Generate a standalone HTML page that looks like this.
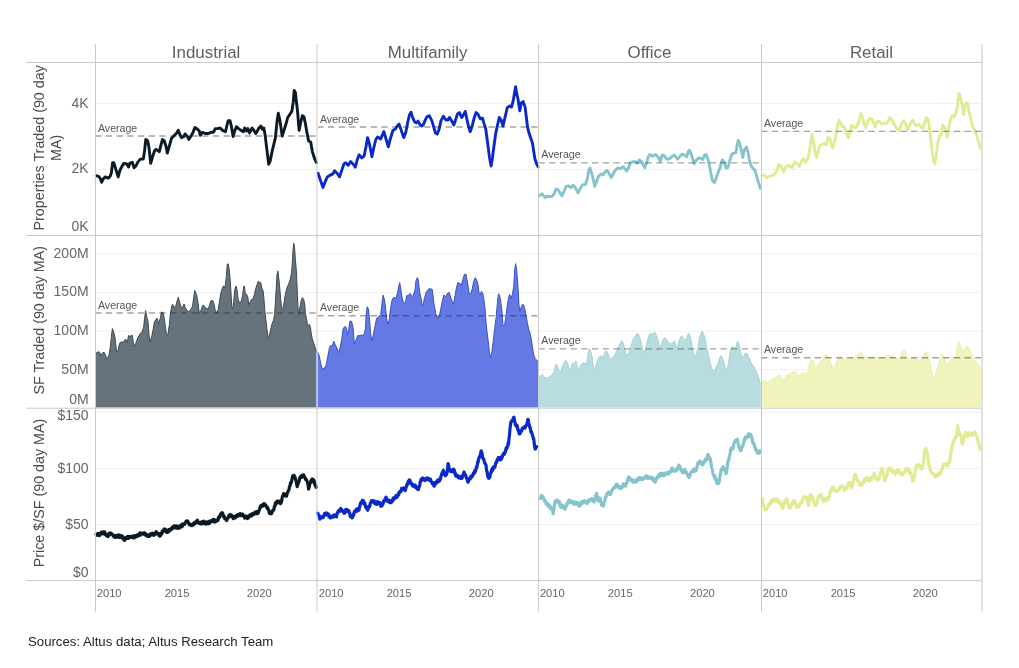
<!DOCTYPE html>
<html><head><meta charset="utf-8"><title>Chart</title>
<style>html,body{margin:0;padding:0;background:#fff}svg{display:block}</style>
</head><body>
<svg width="1019" height="668" viewBox="0 0 1019 668" font-family="&quot;Liberation Sans&quot;, sans-serif">
<rect width="1019" height="668" fill="#fff"/>
<g stroke="#f0f0f0" stroke-width="1">
<line x1="96" x2="981.5" y1="103.5" y2="103.5"/>
<line x1="96" x2="981.5" y1="169.4" y2="169.4"/>
<line x1="96" x2="981.5" y1="254.0" y2="254.0"/>
<line x1="96" x2="981.5" y1="292.6" y2="292.6"/>
<line x1="96" x2="981.5" y1="331.2" y2="331.2"/>
<line x1="96" x2="981.5" y1="369.7" y2="369.7"/>
<line x1="96" x2="981.5" y1="412.4" y2="412.4"/>
<line x1="96" x2="981.5" y1="468.5" y2="468.5"/>
<line x1="96" x2="981.5" y1="524.6" y2="524.6"/>
</g>
<path d="M95.8,353.1 L96.1,353.1 L97.9,351.9 L99.4,351.9 L101,355.6 L102.8,352.5 L104.3,352.5 L105.9,356.2 L107.5,358.7 L109,355 L110.2,347.6 L111.4,336.6 L112.4,328.6 L113.6,331.7 L114.9,336.6 L115.7,343.9 L116.9,352.5 L118.2,350.1 L119.4,343.9 L120.6,342.1 L122.5,342.1 L124.3,340.9 L125.5,339 L127.1,342.7 L128.6,335.3 L129.8,337.2 L131.1,335.3 L132.3,335.3 L133.3,342.7 L134.5,346.4 L136,342.7 L137.8,337.8 L140.3,333.5 L142.1,331.7 L143.6,327.4 L144.6,318.2 L145.6,310.5 L146.8,316.9 L148,321.8 L148.9,334.1 L150.1,342.1 L151.7,336.6 L153.2,329.2 L154.4,321.8 L155.6,320 L156.9,318.2 L158.7,323.1 L160.3,318.2 L161.5,312 L163,312.6 L164.2,318.2 L165.4,326.7 L166.4,334.1 L167.9,334.7 L169.4,324.3 L170.6,312 L172.2,304.6 L173.4,305.3 L174.3,307.7 L175.9,305.9 L177.1,301 L178.3,297.3 L179.6,302.2 L180.8,306.5 L182.6,307.7 L184.1,304 L185.3,307.7 L186.9,310.2 L188.8,312 L190.6,309.6 L192.5,306.5 L193.7,297.3 L194.7,290.5 L195,290.8 L196.8,295.7 L198.1,303.1 L199.3,313.5 L200.9,310.4 L202.1,306.8 L203.3,304.9 L204.8,306.8 L206.7,308.6 L208.5,308.6 L209.7,304.3 L211,300.6 L212.8,300.6 L214,304.3 L215.3,310.4 L216.9,312.9 L218.3,309.2 L219.6,300.6 L220.8,293.3 L222.3,288.3 L223.5,285.9 L225.1,287.1 L226.3,277.3 L227.2,264.4 L228.2,263.8 L229.1,268.7 L230,277.3 L230.9,290.8 L231.8,306.8 L232.8,308.6 L233.7,301.9 L234.5,292 L235.5,286.5 L236.5,286.5 L237.4,293.3 L238.2,300 L239.8,303.1 L241.4,300.6 L242.6,295.7 L243.5,287.1 L244.4,285.9 L245.1,292.6 L246.6,294.5 L247.8,296.9 L248.8,304.9 L250.3,301.9 L251.5,299.4 L253.3,298.8 L254.6,293.3 L255.8,288.3 L257,284.7 L258.2,281 L259.5,282.8 L260.7,282.2 L261.9,288.3 L263.1,290.8 L264,299.4 L264.7,309.7 L265.8,319.3 L266.9,328.9 L268,336.2 L268.5,338.4 L269.3,336.2 L270.6,329.6 L272.1,323.7 L273.6,320 L274.7,313.4 L275.4,301.9 L276.3,287.1 L277,274.8 L277.9,270.9 L278.7,277.3 L279.7,287.1 L280.7,299.4 L281.6,308 L282.8,309.2 L284,303.1 L285.3,294.5 L286.8,288.3 L288.3,284.7 L290.2,279.7 L291.4,273.6 L292.2,265 L293,250.3 L293.8,243.2 L294.7,249.1 L295.4,260.1 L296.3,269.9 L296.9,282.2 L297.5,296.9 L298.1,309.2 L298.8,314.7 L300,306.8 L301.2,300.6 L302.4,297.6 L303.7,299.4 L304.9,305.5 L305.3,312.7 L306.3,317.8 L307.4,323.7 L308.5,325.9 L309.5,324.4 L310.4,327.4 L311.1,332.5 L312.2,338.4 L313.3,342.1 L314,344 L316.5,352 L316.4,352 L316.4,407.6 L95.8,407.6 Z" fill="#66737d"/>
<path d="M95.8,353.1 L96.1,353.1 L97.9,351.9 L99.4,351.9 L101,355.6 L102.8,352.5 L104.3,352.5 L105.9,356.2 L107.5,358.7 L109,355 L110.2,347.6 L111.4,336.6 L112.4,328.6 L113.6,331.7 L114.9,336.6 L115.7,343.9 L116.9,352.5 L118.2,350.1 L119.4,343.9 L120.6,342.1 L122.5,342.1 L124.3,340.9 L125.5,339 L127.1,342.7 L128.6,335.3 L129.8,337.2 L131.1,335.3 L132.3,335.3 L133.3,342.7 L134.5,346.4 L136,342.7 L137.8,337.8 L140.3,333.5 L142.1,331.7 L143.6,327.4 L144.6,318.2 L145.6,310.5 L146.8,316.9 L148,321.8 L148.9,334.1 L150.1,342.1 L151.7,336.6 L153.2,329.2 L154.4,321.8 L155.6,320 L156.9,318.2 L158.7,323.1 L160.3,318.2 L161.5,312 L163,312.6 L164.2,318.2 L165.4,326.7 L166.4,334.1 L167.9,334.7 L169.4,324.3 L170.6,312 L172.2,304.6 L173.4,305.3 L174.3,307.7 L175.9,305.9 L177.1,301 L178.3,297.3 L179.6,302.2 L180.8,306.5 L182.6,307.7 L184.1,304 L185.3,307.7 L186.9,310.2 L188.8,312 L190.6,309.6 L192.5,306.5 L193.7,297.3 L194.7,290.5 L195,290.8 L196.8,295.7 L198.1,303.1 L199.3,313.5 L200.9,310.4 L202.1,306.8 L203.3,304.9 L204.8,306.8 L206.7,308.6 L208.5,308.6 L209.7,304.3 L211,300.6 L212.8,300.6 L214,304.3 L215.3,310.4 L216.9,312.9 L218.3,309.2 L219.6,300.6 L220.8,293.3 L222.3,288.3 L223.5,285.9 L225.1,287.1 L226.3,277.3 L227.2,264.4 L228.2,263.8 L229.1,268.7 L230,277.3 L230.9,290.8 L231.8,306.8 L232.8,308.6 L233.7,301.9 L234.5,292 L235.5,286.5 L236.5,286.5 L237.4,293.3 L238.2,300 L239.8,303.1 L241.4,300.6 L242.6,295.7 L243.5,287.1 L244.4,285.9 L245.1,292.6 L246.6,294.5 L247.8,296.9 L248.8,304.9 L250.3,301.9 L251.5,299.4 L253.3,298.8 L254.6,293.3 L255.8,288.3 L257,284.7 L258.2,281 L259.5,282.8 L260.7,282.2 L261.9,288.3 L263.1,290.8 L264,299.4 L264.7,309.7 L265.8,319.3 L266.9,328.9 L268,336.2 L268.5,338.4 L269.3,336.2 L270.6,329.6 L272.1,323.7 L273.6,320 L274.7,313.4 L275.4,301.9 L276.3,287.1 L277,274.8 L277.9,270.9 L278.7,277.3 L279.7,287.1 L280.7,299.4 L281.6,308 L282.8,309.2 L284,303.1 L285.3,294.5 L286.8,288.3 L288.3,284.7 L290.2,279.7 L291.4,273.6 L292.2,265 L293,250.3 L293.8,243.2 L294.7,249.1 L295.4,260.1 L296.3,269.9 L296.9,282.2 L297.5,296.9 L298.1,309.2 L298.8,314.7 L300,306.8 L301.2,300.6 L302.4,297.6 L303.7,299.4 L304.9,305.5 L305.3,312.7 L306.3,317.8 L307.4,323.7 L308.5,325.9 L309.5,324.4 L310.4,327.4 L311.1,332.5 L312.2,338.4 L313.3,342.1 L314,344 L316.5,352 L316.4,352" fill="none" stroke="#3e4a54" stroke-width="1" stroke-linejoin="round"/>
<path d="M316.4,352.2 L317.7,352.2 L319.3,355.9 L320.9,364.4 L322.6,369.4 L324.8,367.5 L326.3,364.4 L327.9,355.9 L329.5,347.3 L330.7,345.4 L332.2,346.6 L333.7,341.1 L335.3,344.8 L337.1,348.5 L338.6,352.8 L340.2,347.3 L341.8,338.7 L343.2,328.2 L345.1,326.4 L346.3,327.6 L347.5,335 L348.8,328.8 L350,320.9 L351.6,321.5 L353.1,327.6 L354.3,343.6 L356.1,339.9 L357.7,335.6 L359.8,335.6 L361.7,335 L364.1,335 L365.3,328.8 L366.3,314.1 L367.2,306.7 L368.4,309.2 L369.6,320.2 L370.5,332.5 L371.7,341.1 L373.3,335 L375.2,325.2 L376.6,318.4 L378.9,316.6 L380.7,314.7 L381.9,304.3 L383.1,295.1 L384.4,299.4 L385.6,308 L386.8,320.2 L388.1,324.5 L389.3,319 L390.2,311 L391.3,304 L392.4,298.8 L393.8,297.3 L396,298.4 L397.5,292.9 L398.6,287 L399.6,282.6 L400.5,286.3 L401.3,292.9 L402.3,298.8 L403.4,302.1 L404.9,303.6 L406,299.5 L406.7,295.5 L407.8,295.9 L408.9,294.4 L410.4,293.6 L411.5,295.5 L412.8,296.6 L414.1,292.9 L415.2,289.2 L415.9,281.1 L417.4,277.5 L418.5,280.4 L419,287 L420,293.6 L421.1,298.8 L421.9,304 L422.7,305.4 L423.6,302.1 L424.7,297.3 L426.2,292.2 L427.7,290.3 L429.2,288.5 L430.6,288.9 L432.1,289.2 L432.8,293.6 L433.6,301 L434.5,306.9 L435.4,311 L435.9,314.7 L437.8,318.4 L437.9,318.9 L439.5,315.2 L441,307.8 L442.4,300.4 L444,294.9 L445.9,296.7 L447.7,293.1 L449.3,292.5 L450.8,298 L452.6,302.3 L453.5,304.1 L455.1,295.5 L456.3,288.2 L457.9,282.6 L459.6,283.2 L461.2,285.7 L462.8,279.6 L464.3,274.6 L465.8,274 L467,279.6 L468.2,286.9 L469.4,294.9 L471,293.1 L472.3,288.8 L473.5,282 L475.1,277.7 L476.6,279.6 L478,284.5 L479,293.1 L480.3,294.9 L481.5,291.2 L483,294.3 L484.2,301.7 L485.2,310.3 L486.1,323.8 L487.4,334.8 L488.2,340.8 L489.4,351.9 L490.5,357.4 L491.6,354.1 L492.7,345.2 L493.8,336.4 L494.7,328.7 L496.2,316.4 L497.4,302.9 L498.4,293.7 L499.7,295.5 L500.9,302.9 L502.1,312.7 L503,326.2 L504.6,325 L505.8,317.6 L507,307.8 L508.5,298 L509.7,294.3 L511,298.6 L512.4,294.3 L513.7,286.9 L514.6,271 L515.6,263.6 L516.5,268.5 L517.3,277.1 L518.3,291.8 L518.9,304.1 L519.8,311.5 L521.4,306.6 L522.6,304.1 L523.8,305.3 L525.1,310.3 L526.3,316.4 L527.5,323.8 L529.1,331.1 L529.8,332 L531.3,339.4 L532.4,346.7 L533.5,354.1 L535,358.5 L536.8,360.3 L537.6,361.4 L538.1,361.4 L538.1,407.6 L316.4,407.6 Z" fill="#6479e4"/>
<path d="M316.4,352.2 L317.7,352.2 L319.3,355.9 L320.9,364.4 L322.6,369.4 L324.8,367.5 L326.3,364.4 L327.9,355.9 L329.5,347.3 L330.7,345.4 L332.2,346.6 L333.7,341.1 L335.3,344.8 L337.1,348.5 L338.6,352.8 L340.2,347.3 L341.8,338.7 L343.2,328.2 L345.1,326.4 L346.3,327.6 L347.5,335 L348.8,328.8 L350,320.9 L351.6,321.5 L353.1,327.6 L354.3,343.6 L356.1,339.9 L357.7,335.6 L359.8,335.6 L361.7,335 L364.1,335 L365.3,328.8 L366.3,314.1 L367.2,306.7 L368.4,309.2 L369.6,320.2 L370.5,332.5 L371.7,341.1 L373.3,335 L375.2,325.2 L376.6,318.4 L378.9,316.6 L380.7,314.7 L381.9,304.3 L383.1,295.1 L384.4,299.4 L385.6,308 L386.8,320.2 L388.1,324.5 L389.3,319 L390.2,311 L391.3,304 L392.4,298.8 L393.8,297.3 L396,298.4 L397.5,292.9 L398.6,287 L399.6,282.6 L400.5,286.3 L401.3,292.9 L402.3,298.8 L403.4,302.1 L404.9,303.6 L406,299.5 L406.7,295.5 L407.8,295.9 L408.9,294.4 L410.4,293.6 L411.5,295.5 L412.8,296.6 L414.1,292.9 L415.2,289.2 L415.9,281.1 L417.4,277.5 L418.5,280.4 L419,287 L420,293.6 L421.1,298.8 L421.9,304 L422.7,305.4 L423.6,302.1 L424.7,297.3 L426.2,292.2 L427.7,290.3 L429.2,288.5 L430.6,288.9 L432.1,289.2 L432.8,293.6 L433.6,301 L434.5,306.9 L435.4,311 L435.9,314.7 L437.8,318.4 L437.9,318.9 L439.5,315.2 L441,307.8 L442.4,300.4 L444,294.9 L445.9,296.7 L447.7,293.1 L449.3,292.5 L450.8,298 L452.6,302.3 L453.5,304.1 L455.1,295.5 L456.3,288.2 L457.9,282.6 L459.6,283.2 L461.2,285.7 L462.8,279.6 L464.3,274.6 L465.8,274 L467,279.6 L468.2,286.9 L469.4,294.9 L471,293.1 L472.3,288.8 L473.5,282 L475.1,277.7 L476.6,279.6 L478,284.5 L479,293.1 L480.3,294.9 L481.5,291.2 L483,294.3 L484.2,301.7 L485.2,310.3 L486.1,323.8 L487.4,334.8 L488.2,340.8 L489.4,351.9 L490.5,357.4 L491.6,354.1 L492.7,345.2 L493.8,336.4 L494.7,328.7 L496.2,316.4 L497.4,302.9 L498.4,293.7 L499.7,295.5 L500.9,302.9 L502.1,312.7 L503,326.2 L504.6,325 L505.8,317.6 L507,307.8 L508.5,298 L509.7,294.3 L511,298.6 L512.4,294.3 L513.7,286.9 L514.6,271 L515.6,263.6 L516.5,268.5 L517.3,277.1 L518.3,291.8 L518.9,304.1 L519.8,311.5 L521.4,306.6 L522.6,304.1 L523.8,305.3 L525.1,310.3 L526.3,316.4 L527.5,323.8 L529.1,331.1 L529.8,332 L531.3,339.4 L532.4,346.7 L533.5,354.1 L535,358.5 L536.8,360.3 L537.6,361.4 L538.1,361.4" fill="none" stroke="#3a50cc" stroke-width="1" stroke-linejoin="round"/>
<path d="M538.9,377.5 L539.2,377.5 L540.7,375.7 L542.5,374.5 L544.4,377.5 L546.8,378.1 L549.3,376.9 L551.7,375.1 L553.6,372.6 L555.2,366.5 L556.4,364 L557.9,367.7 L559.3,370.2 L560.9,372 L562.8,365.3 L564.6,361.6 L566.2,360.3 L567.7,364 L569.2,368.9 L570.4,370.8 L572,364 L573.6,362.8 L574.8,363.4 L576,361 L577.3,366.5 L578.5,370.2 L580,366.5 L581.8,364 L583.7,362.8 L585.5,364 L587.1,361.6 L588.3,351.7 L589.6,348.7 L591,352.4 L592.3,357.9 L593.2,365.3 L594.5,369.6 L595.9,365.3 L597.4,360.3 L599,357.3 L600.9,355.4 L602.7,357.9 L604.3,354.2 L605.8,351.1 L607.2,351.7 L608.8,356 L610.4,359.1 L611.9,357.9 L613.7,356 L615.6,353.6 L617.4,349.3 L619,346.2 L620.5,342.5 L622,340.7 L623.6,344.4 L625.2,350.5 L626.6,355.4 L628.5,354.2 L630.3,348.1 L632.2,341.9 L634,337.6 L635.8,335.2 L637.9,333.3 L639.5,336.4 L641.1,341.9 L642.4,348.1 L643.8,352.4 L645.7,349.3 L647.3,341.9 L648.7,335.8 L650,333.9 L652.5,333.9 L654.7,332.1 L656.4,335.2 L658,340.7 L659.6,346.8 L661.3,345.6 L662.9,340.1 L664.7,337.6 L666.6,339.5 L668.4,342.5 L670.3,344.4 L671.9,342.5 L673.3,343.8 L674.6,340.7 L675.8,345.6 L677,348.1 L678.5,341.9 L680.1,338.2 L681.7,335.8 L683.2,338.9 L685,340.1 L686.8,338.2 L688.3,333.3 L689.5,333.9 L690.8,339.5 L692.4,348.1 L693.6,354.2 L695.2,356 L696.7,353 L698.1,346.8 L699.4,338.2 L701,333.3 L702.2,331.1 L703.8,334.6 L705.3,339.5 L706.5,346.8 L708,353 L709.6,360.3 L711.1,366.5 L712.6,370.2 L714.5,370.8 L716.3,367.1 L718.1,362.8 L719.7,357.9 L721.2,355.4 L722.7,358.5 L724.3,364 L725.9,368.9 L727.1,369.6 L728.6,362.8 L729.8,354.2 L731,348.1 L732.3,346.2 L734.1,348.1 L736,346.8 L737.2,341.9 L738.2,341.7 L739.4,346.8 L740.9,353 L742.3,358.5 L743.9,356 L745.5,353 L747,353.6 L748.5,356.7 L750.1,360.3 L751.9,364 L753.8,366.5 L755.6,370.2 L757.4,374.5 L759,378.8 L760.3,383.7 L760.8,383.7 L760.8,407.6 L538.9,407.6 Z" fill="#b7dde1"/>
<path d="M538.9,377.5 L539.2,377.5 L540.7,375.7 L542.5,374.5 L544.4,377.5 L546.8,378.1 L549.3,376.9 L551.7,375.1 L553.6,372.6 L555.2,366.5 L556.4,364 L557.9,367.7 L559.3,370.2 L560.9,372 L562.8,365.3 L564.6,361.6 L566.2,360.3 L567.7,364 L569.2,368.9 L570.4,370.8 L572,364 L573.6,362.8 L574.8,363.4 L576,361 L577.3,366.5 L578.5,370.2 L580,366.5 L581.8,364 L583.7,362.8 L585.5,364 L587.1,361.6 L588.3,351.7 L589.6,348.7 L591,352.4 L592.3,357.9 L593.2,365.3 L594.5,369.6 L595.9,365.3 L597.4,360.3 L599,357.3 L600.9,355.4 L602.7,357.9 L604.3,354.2 L605.8,351.1 L607.2,351.7 L608.8,356 L610.4,359.1 L611.9,357.9 L613.7,356 L615.6,353.6 L617.4,349.3 L619,346.2 L620.5,342.5 L622,340.7 L623.6,344.4 L625.2,350.5 L626.6,355.4 L628.5,354.2 L630.3,348.1 L632.2,341.9 L634,337.6 L635.8,335.2 L637.9,333.3 L639.5,336.4 L641.1,341.9 L642.4,348.1 L643.8,352.4 L645.7,349.3 L647.3,341.9 L648.7,335.8 L650,333.9 L652.5,333.9 L654.7,332.1 L656.4,335.2 L658,340.7 L659.6,346.8 L661.3,345.6 L662.9,340.1 L664.7,337.6 L666.6,339.5 L668.4,342.5 L670.3,344.4 L671.9,342.5 L673.3,343.8 L674.6,340.7 L675.8,345.6 L677,348.1 L678.5,341.9 L680.1,338.2 L681.7,335.8 L683.2,338.9 L685,340.1 L686.8,338.2 L688.3,333.3 L689.5,333.9 L690.8,339.5 L692.4,348.1 L693.6,354.2 L695.2,356 L696.7,353 L698.1,346.8 L699.4,338.2 L701,333.3 L702.2,331.1 L703.8,334.6 L705.3,339.5 L706.5,346.8 L708,353 L709.6,360.3 L711.1,366.5 L712.6,370.2 L714.5,370.8 L716.3,367.1 L718.1,362.8 L719.7,357.9 L721.2,355.4 L722.7,358.5 L724.3,364 L725.9,368.9 L727.1,369.6 L728.6,362.8 L729.8,354.2 L731,348.1 L732.3,346.2 L734.1,348.1 L736,346.8 L737.2,341.9 L738.2,341.7 L739.4,346.8 L740.9,353 L742.3,358.5 L743.9,356 L745.5,353 L747,353.6 L748.5,356.7 L750.1,360.3 L751.9,364 L753.8,366.5 L755.6,370.2 L757.4,374.5 L759,378.8 L760.3,383.7 L760.8,383.7" fill="none" stroke="#a5d2d7" stroke-width="1" stroke-linejoin="round"/>
<path d="M761.8,381.5 L762.1,381.5 L764.5,380.9 L767,382.7 L769.4,382.1 L771.9,379 L774.3,377.8 L776.8,376.6 L779.3,374.7 L781.7,377.8 L784.2,380.3 L786.6,375.3 L789.1,374.1 L791.5,372.9 L794.6,371 L797.1,374.1 L798.9,376 L801.4,373.5 L803.8,372.9 L806.3,373.5 L808.1,370.4 L809.6,363.1 L811.2,359.4 L812.8,360.6 L814.3,365.5 L815.7,368.6 L817.7,365.5 L819.8,362.5 L822.2,360 L824.7,356.3 L826.5,354.5 L828.4,356.3 L830.2,360.6 L831.7,365.5 L833.3,368.6 L834.9,366.1 L836.6,360.6 L838.8,358.2 L841.3,357.5 L843.7,358.8 L846.2,360 L848.6,359.4 L851.1,357.5 L853.5,358.2 L856,357.5 L858.2,355.1 L860.3,351.4 L862.1,354.5 L864,357.5 L866.4,357.5 L869.5,357.9 L870,357.5 L873.7,356.9 L877.4,357.5 L881.1,358.2 L884.7,356.9 L888.4,355.1 L890.9,356.3 L893.3,355.7 L896.4,358.8 L898.9,359.4 L900.7,355.7 L902.2,351.4 L903.8,350.2 L905.6,352.6 L906.8,356.9 L909.3,360 L912.4,358.2 L915.4,358.8 L918.5,360.6 L921,360.6 L923.4,356.9 L925,352.6 L926.5,351.4 L928,354.5 L929.6,360.6 L930.8,368 L932.4,375.3 L933.9,377.2 L935.7,374.1 L937.3,368 L939,361.8 L941,355.7 L942.7,354.5 L944.3,357.5 L945.9,363.1 L947.4,366.1 L949.2,361.8 L951,358.8 L953.5,357.5 L956,355.7 L957.2,347.1 L958.4,341.6 L959.9,343.4 L961.5,347.7 L962.7,353.2 L963.9,349.6 L965.8,346.5 L967.6,345.9 L969.5,348.9 L971.3,353.2 L973.1,357.5 L975,360 L976.8,362.5 L978.7,365.5 L980.5,368 L981.5,369.2 L982,369.2 L982,407.6 L761.8,407.6 Z" fill="#f0f4bc"/>
<path d="M761.8,381.5 L762.1,381.5 L764.5,380.9 L767,382.7 L769.4,382.1 L771.9,379 L774.3,377.8 L776.8,376.6 L779.3,374.7 L781.7,377.8 L784.2,380.3 L786.6,375.3 L789.1,374.1 L791.5,372.9 L794.6,371 L797.1,374.1 L798.9,376 L801.4,373.5 L803.8,372.9 L806.3,373.5 L808.1,370.4 L809.6,363.1 L811.2,359.4 L812.8,360.6 L814.3,365.5 L815.7,368.6 L817.7,365.5 L819.8,362.5 L822.2,360 L824.7,356.3 L826.5,354.5 L828.4,356.3 L830.2,360.6 L831.7,365.5 L833.3,368.6 L834.9,366.1 L836.6,360.6 L838.8,358.2 L841.3,357.5 L843.7,358.8 L846.2,360 L848.6,359.4 L851.1,357.5 L853.5,358.2 L856,357.5 L858.2,355.1 L860.3,351.4 L862.1,354.5 L864,357.5 L866.4,357.5 L869.5,357.9 L870,357.5 L873.7,356.9 L877.4,357.5 L881.1,358.2 L884.7,356.9 L888.4,355.1 L890.9,356.3 L893.3,355.7 L896.4,358.8 L898.9,359.4 L900.7,355.7 L902.2,351.4 L903.8,350.2 L905.6,352.6 L906.8,356.9 L909.3,360 L912.4,358.2 L915.4,358.8 L918.5,360.6 L921,360.6 L923.4,356.9 L925,352.6 L926.5,351.4 L928,354.5 L929.6,360.6 L930.8,368 L932.4,375.3 L933.9,377.2 L935.7,374.1 L937.3,368 L939,361.8 L941,355.7 L942.7,354.5 L944.3,357.5 L945.9,363.1 L947.4,366.1 L949.2,361.8 L951,358.8 L953.5,357.5 L956,355.7 L957.2,347.1 L958.4,341.6 L959.9,343.4 L961.5,347.7 L962.7,353.2 L963.9,349.6 L965.8,346.5 L967.6,345.9 L969.5,348.9 L971.3,353.2 L973.1,357.5 L975,360 L976.8,362.5 L978.7,365.5 L980.5,368 L981.5,369.2 L982,369.2" fill="none" stroke="#eaefb0" stroke-width="1" stroke-linejoin="round"/>
<path d="M96.1,175.7 L98.5,176.3 L100.1,178.1 L101.6,182.2 L103.4,178.8 L105.3,176.9 L108.3,178.1 L110.2,176.3 L111.4,172.6 L112.6,162.8 L113.9,162.8 L115.7,168.9 L118.2,176.9 L120,170.2 L121.9,166.5 L123.7,163.4 L126.8,164 L128.6,167.1 L129.8,163.4 L132.3,162.2 L134.1,167.7 L136,165.9 L137.8,162.2 L140.3,159.1 L143.3,159.1 L144.6,150.5 L145.8,139.5 L147.6,140.7 L148.9,146.8 L150.7,163.4 L152.6,156.7 L154.4,151.1 L156.2,149.3 L159.3,151.7 L160.5,146.8 L162.4,139.5 L164.2,140.7 L166.1,146.8 L167.3,153 L169.1,146.8 L171.6,138.2 L174,135.8 L176.5,133.3 L178.3,130.3 L179.6,133.9 L181.4,137.6 L183.9,136.4 L185.1,133.9 L187.5,136.4 L188.8,139.5 L191.2,135.8 L193.1,132.1 L195,127.4 L197.5,129.2 L199.3,131 L200.2,135.3 L202.4,132.3 L205.4,133.5 L208.5,133.5 L211,132.3 L213.4,132.3 L215.3,128.6 L217.7,128.6 L220.2,128 L222.6,130.4 L225.5,131.7 L226.9,125.5 L228.2,120.6 L230,120.6 L231.2,125.5 L233.1,136.6 L234.9,130.4 L236.4,126.7 L238.6,128.6 L241,130.4 L243.5,131.7 L244.7,128 L246.6,131 L247.8,128.6 L249.6,132.9 L252.1,128 L253.9,130.4 L255.8,133.5 L257.6,130.4 L258.9,128 L260.9,126.1 L262.3,129.2 L263.8,128 L265,134.1 L266.8,148.9 L268.7,164.2 L270.1,161.1 L272.4,150.1 L275.4,137.8 L277,121.8 L278.3,113.2 L279.7,119.4 L282.2,136 L284,130.4 L285.9,124.3 L287.7,117.5 L290.2,113.9 L292,110.8 L293.2,102.2 L294.2,90.5 L295.4,92.4 L296.3,101 L297.5,110.8 L299.1,130.4 L300.8,121.8 L302.4,115.7 L304,116.9 L305.5,124.3 L307,132.9 L308.6,140.9 L310.7,142.1 L312.3,151.3 L314.1,157.4 L316.3,162.4" fill="none" stroke="#0b1a27" stroke-width="2.9" stroke-linejoin="round" stroke-linecap="round"/>
<path d="M318.1,173.2 L319.9,178.8 L323,187.4 L325.4,181.2 L327.3,176.9 L330.3,175.1 L332.8,173.9 L334.6,170.8 L337.1,173.2 L339.6,176.9 L341.4,171.4 L343.9,164 L345.7,162.8 L348.2,165.3 L350.6,161.6 L353.1,164 L355.3,167.1 L357.4,159.1 L359.2,154.8 L361.7,157.9 L364.1,156 L366,146.8 L367.6,137.6 L369.6,144.4 L371.9,156.7 L373.7,148.1 L375.8,139.5 L377.6,137 L380.7,138.9 L382.3,135.2 L383.8,131.5 L386.2,139.5 L388.3,146.8 L390.5,138.2 L393,130.3 L395.4,129 L397.3,126 L399.1,124.1 L401,129.6 L403.7,137.6 L405.9,132.1 L407.7,122.3 L409.5,114.9 L411,112.2 L412.6,117.4 L414.5,121.7 L416.3,122.9 L417.9,121.1 L420,124.7 L421.8,126 L423.7,124.1 L425,120.6 L426.8,116.9 L429.3,115.7 L431.8,120.6 L433.6,126.7 L435.4,132.9 L437.3,134.1 L439.1,129.2 L441,120.6 L443.4,116.3 L445.9,120 L447.7,120 L449.6,117.5 L451.4,120.6 L453.9,124.9 L455.7,119.4 L457.5,113.9 L459.4,112.6 L461.8,117.5 L463.7,114.5 L465.3,111.4 L466.7,118.2 L468.6,126.7 L470.2,131.7 L472.3,125.5 L474.1,118.2 L476,112.6 L477.8,113.9 L480.3,118.8 L482.5,118.2 L483.9,123.1 L485.8,129.2 L487.6,142.7 L489.5,157.4 L491.1,166 L492.5,157.4 L494.4,142.7 L495.6,134.1 L497.4,125.5 L499.3,117.5 L501.1,120 L503,126.1 L504.8,118.2 L507.3,107.7 L509.7,105.9 L511.6,107.1 L513.4,99.7 L514.6,92.4 L515.6,86.8 L516.5,92.4 L518.1,99.7 L519.8,110.8 L521.4,102.8 L523.2,101.6 L525.1,107.1 L526.3,116.9 L527.5,126.7 L528.8,132.3 L530.6,137.8 L532.4,142.7 L533.7,151.3 L534.9,158.7 L536.7,164.2 L538,166.7" fill="none" stroke="#0a2ac8" stroke-width="2.9" stroke-linejoin="round" stroke-linecap="round"/>
<path d="M539.2,195.6 L541.9,193.8 L545,197.4 L547.4,196 L549.9,196.8 L552.3,196.2 L554.2,193.8 L556,188.9 L557.9,189.5 L559.7,192.5 L561.9,196 L564,191.3 L566.2,186.4 L568.3,185.8 L570.8,187.6 L572.9,185.2 L575.3,187.6 L578.1,192.8 L580,188.9 L582.4,184.9 L585.5,184.3 L587.3,179 L588.8,170.4 L590,168 L591.6,172.9 L593.2,179 L594.7,186.4 L596.6,181.5 L598.4,176.6 L600.9,174.1 L603.3,174.7 L605.1,171.7 L607,170.4 L609.4,174.1 L611.3,177.6 L613.1,174.1 L615.6,169.8 L618,168 L620.5,168.6 L623,166.7 L624.8,168.6 L626.6,171 L628.5,168 L630.3,163.1 L632.8,161.8 L635.2,161.6 L637.1,163.1 L639.2,160 L641.4,161.2 L643.2,164.9 L644.8,167.7 L646.9,161.8 L648.7,155.7 L650,154.5 L652.5,156.3 L655.5,154.5 L658,156.9 L660.1,161.2 L662.3,155.1 L664.1,155.7 L666,158.2 L667.8,159.4 L670.3,158.2 L672.1,156.3 L673.9,155.1 L675.8,156.9 L677.6,159.1 L680.1,156.3 L681.9,154.2 L684.4,155.1 L686.8,156.9 L688.3,151.4 L689.5,150.2 L691.1,153.9 L692.7,158.8 L694.2,163.7 L696,160.6 L698.5,157.9 L700.3,158.2 L702.8,159.4 L704.6,155.1 L705.9,154.5 L707.7,158.2 L709.2,164.3 L710.8,172.9 L712.6,180.9 L714.5,182.7 L716.3,177.8 L718.1,172.3 L720,168 L721.2,162.5 L722.4,160 L724.3,162.5 L726.1,168 L728,167.4 L729.8,160.6 L731.7,154.5 L733.5,153.2 L736,152.6 L737.2,144.6 L738.4,140.3 L739.9,144.6 L741.5,150.8 L742.7,157.5 L744.5,149.6 L746.4,147.1 L748.2,153.2 L749.7,161.8 L751.3,166.1 L753.1,168.6 L755,170.4 L756.8,176.6 L758.7,183.3 L760.3,188.2" fill="none" stroke="#86c4cb" stroke-width="2.9" stroke-linejoin="round" stroke-linecap="round"/>
<path d="M762.1,175 L764.5,175.6 L767,177.7 L769.4,176.2 L772.5,175.6 L775,173.8 L777.2,170.1 L778.6,164.6 L780.5,165.2 L782.3,168.9 L783.6,171.9 L785.4,167.6 L787.9,165.2 L790.3,166.4 L792.2,167.6 L794.6,162.1 L797.1,163.9 L799.3,166.4 L801.4,160.9 L803.2,159 L805.7,162.1 L808.1,157.8 L809.6,150.4 L810.8,140.6 L812,134.5 L813.6,141.8 L815.2,152.9 L816.5,157.8 L818.2,151.7 L819.8,145.5 L822.2,144.3 L824.7,143.7 L826.3,144.9 L827.8,137.5 L829.6,138.2 L831.4,144.3 L832.7,148 L834.5,141.8 L836.1,134.5 L837.6,125.3 L839.1,120.3 L840.7,123.4 L842.5,126.5 L844.3,127.1 L846.2,133.2 L848.4,137.9 L849.9,132 L851.7,125.3 L853.5,127.1 L855.4,127.7 L857.2,125.9 L859.1,120.3 L860.9,113.6 L862.4,117.3 L864,123.4 L865.8,127.7 L867.7,121 L869.5,118.5 L870,119.4 L871.8,118.8 L873.7,123.1 L875.2,126.7 L877.1,121.8 L879.2,121.2 L881.7,124.3 L884.1,123.1 L886.6,123.7 L888.4,120.6 L889.9,117.5 L891.9,120 L893.6,123.1 L895.8,127.4 L898.2,130.4 L900.1,128 L901.9,123.1 L903.8,120.6 L905.6,123.7 L907.5,129.8 L909,126.7 L911.1,121.8 L913,120 L914.8,124.3 L916.7,125.5 L919.1,124.3 L921.6,127.4 L923.4,128 L925,121.8 L926.5,117.5 L928,118.8 L929.2,125.5 L930.4,136.6 L932,150.1 L933.6,161.1 L934.8,163.6 L936.3,155 L937.8,142.7 L939.4,136.6 L941.2,134.1 L942.7,124.9 L944.3,126.7 L945.9,131.7 L947.1,137.2 L948.8,128 L950.4,119.4 L952.3,115.7 L954.1,116.9 L956,112.6 L957.4,107.1 L958.7,93.6 L959.9,94.2 L961.1,101 L962.3,104.6 L963.6,114.5 L964.8,104.6 L966.4,102.8 L967.6,103.4 L968.8,110.8 L970.7,118.2 L972.5,126.1 L974.4,129.2 L976.2,134.1 L978.1,140.3 L979.9,145.8 L981.5,149.5" fill="none" stroke="#e3ea94" stroke-width="2.9" stroke-linejoin="round" stroke-linecap="round"/>
<path d="M96.1,534.42 L96.43,535.15 L96.77,534.63 L97.1,535.17 L97.43,535.16 L97.77,533.64 L98.1,533.43 L98.43,535.51 L98.77,533.94 L99.1,533.81 L99.46,535.56 L99.81,533.97 L100.17,534.69 L100.53,533.52 L100.89,533.72 L101.24,532.22 L101.6,533.25 L101.94,533.89 L102.29,533.03 L102.63,533.63 L102.98,533.48 L103.32,531.93 L103.67,533.77 L104.01,533.37 L104.36,532.65 L104.7,531.98 L105.03,534.43 L105.37,533.68 L105.7,534.6 L106.03,535.3 L106.37,535.15 L106.7,535.96 L107.03,534.87 L107.37,536.2 L107.7,535.56 L108.06,536.48 L108.41,535.97 L108.77,533.58 L109.13,533.32 L109.49,533.18 L109.84,534.77 L110.2,533.03 L110.54,533.71 L110.89,533.05 L111.23,533.78 L111.57,533.65 L111.91,533.74 L112.26,534.54 L112.6,534.72 L112.96,535.81 L113.31,535.49 L113.67,536.39 L114.03,536.46 L114.39,537.06 L114.74,536.49 L115.1,535.42 L115.44,537.22 L115.77,537.47 L116.11,537.3 L116.45,536.41 L116.78,536.77 L117.12,535.44 L117.45,537.03 L117.79,536.35 L118.13,535.58 L118.46,534.98 L118.8,537.02 L119.14,537.46 L119.49,535.21 L119.83,537.15 L120.18,536.22 L120.52,535.64 L120.87,536.1 L121.21,537.42 L121.56,537.78 L121.9,535.71 L122.23,537.48 L122.57,536.27 L122.9,538.3 L123.23,537.57 L123.57,539.28 L123.9,539.82 L124.23,538.86 L124.57,540.42 L124.9,538.91 L125.24,538.07 L125.59,539.19 L125.93,537.48 L126.28,537.68 L126.62,537.99 L126.97,538.29 L127.31,536.87 L127.66,536.34 L128,538.26 L128.34,536.7 L128.69,538.27 L129.03,538 L129.38,536.54 L129.72,536.64 L130.07,536.69 L130.41,536.9 L130.76,536.66 L131.1,536.45 L131.46,536.66 L131.82,537.55 L132.18,536.47 L132.53,536.32 L132.89,537.12 L133.25,535.92 L133.61,536.13 L133.97,537.94 L134.32,536.8 L134.68,536.93 L135.04,535.58 L135.4,536.68 L135.74,536.94 L136.09,535.31 L136.43,536.69 L136.77,536.56 L137.11,534.9 L137.46,536.2 L137.8,535.61 L138.16,535.91 L138.51,534.8 L138.87,535.47 L139.23,535.29 L139.59,533.17 L139.94,533.01 L140.3,534.36 L140.63,535.07 L140.97,533.19 L141.3,533.69 L141.63,534.01 L141.97,533.27 L142.3,533.35 L142.63,533.18 L142.97,533.29 L143.3,533.85 L143.66,533.21 L144.01,533.54 L144.37,534.69 L144.73,532.88 L145.09,534.42 L145.44,534.98 L145.8,534.01 L146.16,534.04 L146.51,535.8 L146.87,534.59 L147.23,534.72 L147.59,535.62 L147.94,536.56 L148.3,535.26 L148.63,535.57 L148.97,535.33 L149.3,536.37 L149.63,535.07 L149.97,535.89 L150.3,533.84 L150.63,534.01 L150.97,534.56 L151.3,534.9 L151.66,533.86 L152.01,533.36 L152.37,533.17 L152.73,534.32 L153.09,533.52 L153.44,535.21 L153.8,535.38 L154.14,533.41 L154.49,533.38 L154.83,534.48 L155.17,533.78 L155.51,533.94 L155.86,532.47 L156.2,531.64 L156.54,532.29 L156.87,533.82 L157.21,532.69 L157.55,533.11 L157.88,533.52 L158.22,533.76 L158.55,533.96 L158.89,535.51 L159.23,533.75 L159.56,533.58 L159.9,536.25 L160.28,535.59 L160.66,535.37 L161.04,533.43 L161.42,534.27 L161.8,533.71 L162.17,531.38 L162.53,532.24 L162.9,531.98 L163.27,531.02 L163.63,530.15 L164,529.05 L164.34,529.41 L164.68,529.34 L165.01,529.15 L165.35,530.73 L165.69,530.17 L166.02,531.76 L166.36,529.99 L166.7,532.45 L167.04,531.82 L167.39,532.33 L167.73,532.17 L168.07,532.1 L168.41,531.17 L168.76,529.62 L169.1,531.44 L169.46,529.59 L169.81,529.57 L170.17,530.15 L170.53,529.44 L170.89,528.79 L171.24,529.8 L171.6,528.59 L171.94,527.66 L172.29,527.2 L172.63,528.55 L172.97,527.33 L173.31,527.89 L173.66,526.54 L174,525.91 L174.34,526.83 L174.69,527.61 L175.03,525.98 L175.38,527.64 L175.72,528.02 L176.07,527.76 L176.41,527.85 L176.76,525.78 L177.1,527.43 L177.48,528.22 L177.86,526.29 L178.24,527.05 L178.62,527.22 L179,528.07 L179.34,527.5 L179.69,527.33 L180.03,527.82 L180.37,525.5 L180.71,525.34 L181.06,525.23 L181.4,524.92 L181.74,524.57 L182.09,526.71 L182.43,526.19 L182.78,523.98 L183.12,524.85 L183.47,524.15 L183.81,523.94 L184.16,523.82 L184.5,524.38 L184.84,523.84 L185.19,522.87 L185.53,522.04 L185.87,522.01 L186.21,521.09 L186.56,521.83 L186.9,521.86 L187.26,521.37 L187.61,520.98 L187.97,521.62 L188.33,522.51 L188.69,523.5 L189.04,524.35 L189.4,523.69 L189.74,524.97 L190.09,524.69 L190.43,524.38 L190.77,524.41 L191.11,524.92 L191.46,525.64 L191.8,525.09 L192.16,525.58 L192.51,524.74 L192.87,523.95 L193.23,524.48 L193.59,524.66 L193.94,522.81 L194.3,523.5 L194.65,522.86 L195,523.39 L195.36,523.36 L195.71,521.73 L196.07,522.92 L196.43,522.47 L196.79,520.92 L197.14,521.28 L197.5,520.22 L197.83,522.29 L198.17,522.18 L198.5,523.04 L198.83,523.07 L199.17,523.02 L199.5,523.47 L199.83,523.31 L200.17,522.39 L200.5,523.93 L200.84,522.27 L201.19,522.48 L201.53,523.98 L201.88,521.94 L202.22,521.92 L202.57,521.79 L202.91,523.68 L203.26,521.71 L203.6,521.16 L203.94,523.37 L204.29,521.57 L204.63,523.53 L204.98,523.16 L205.32,523.66 L205.67,524.04 L206.01,523.15 L206.36,523.8 L206.7,521.89 L207.03,523.72 L207.37,522.97 L207.7,523.43 L208.03,521.77 L208.37,523.36 L208.7,523.76 L209.03,521.41 L209.37,522.02 L209.7,522.57 L210.04,522.99 L210.39,521.2 L210.73,520.77 L211.08,520.68 L211.42,521.37 L211.77,521.46 L212.11,520.26 L212.46,519.92 L212.8,519.73 L213.16,519.78 L213.51,520.13 L213.87,519.43 L214.23,520.69 L214.59,522.09 L214.94,520.8 L215.3,521.84 L215.64,520.15 L215.99,521.35 L216.33,521.35 L216.67,520.97 L217.01,520.39 L217.36,520.13 L217.7,520.37 L218.06,520.33 L218.41,517.69 L218.77,516.85 L219.13,517.85 L219.49,517.58 L219.84,515.84 L220.2,514.95 L220.55,515.35 L220.9,513.65 L221.25,513.55 L221.6,513.05 L221.95,513.74 L222.3,512.72 L222.67,513.22 L223.03,515.13 L223.4,516.53 L223.77,515.54 L224.13,517.32 L224.5,517.27 L224.87,518.94 L225.23,518.75 L225.6,518.44 L225.97,518.83 L226.33,518.84 L226.7,520.55 L227.05,519.58 L227.4,518.31 L227.75,518.09 L228.1,517.27 L228.45,517.73 L228.8,515.37 L229.16,517.14 L229.52,515.37 L229.88,515.24 L230.24,514.46 L230.6,514.97 L230.94,515.36 L231.28,515.1 L231.61,515.33 L231.95,516.37 L232.29,517.15 L232.62,516.39 L232.96,517.68 L233.3,518.7 L233.65,517.27 L234,516.5 L234.35,516.36 L234.7,517.47 L235.05,517.21 L235.4,517.79 L235.75,517.37 L236.1,515.63 L236.44,515.29 L236.79,515.27 L237.13,514.89 L237.48,516.03 L237.82,516.23 L238.17,516.14 L238.51,514.26 L238.86,515.65 L239.2,514.01 L239.54,514.37 L239.89,515.23 L240.23,513.62 L240.58,513.71 L240.92,515.7 L241.27,514.36 L241.61,514.59 L241.96,515.24 L242.3,515.56 L242.64,514.08 L242.99,515.18 L243.33,515.71 L243.67,516.09 L244.01,515.63 L244.36,516.86 L244.7,518.08 L245.04,516.68 L245.39,517.15 L245.73,516.11 L246.08,516.58 L246.42,517.66 L246.77,516.29 L247.11,518.37 L247.46,518.5 L247.8,516.45 L248.16,518.3 L248.51,516.49 L248.87,517.18 L249.23,516.8 L249.59,515.25 L249.94,515.9 L250.3,515.5 L250.64,515.81 L250.99,514.32 L251.33,515.5 L251.67,515.96 L252.01,515.12 L252.36,514.68 L252.7,513.49 L253.04,514.27 L253.39,513.69 L253.73,514.43 L254.08,514.12 L254.42,513.62 L254.77,512.41 L255.11,513.4 L255.46,513.15 L255.8,511.77 L256.14,513.61 L256.49,513 L256.83,511.62 L257.17,513.72 L257.51,511.67 L257.86,512.16 L258.2,513.17 L258.58,511.87 L258.96,510.78 L259.34,510.04 L259.72,508.57 L260.1,507.21 L260.47,506.41 L260.83,505.68 L261.2,506.91 L261.57,506.56 L261.93,505.56 L262.3,505.62 L262.64,504.58 L262.98,504.29 L263.31,504.55 L263.65,505.77 L263.99,503.56 L264.32,504.71 L264.66,503.99 L265,505.3 L265.34,504.66 L265.69,505.05 L266.03,505.68 L266.37,506.48 L266.71,507.52 L267.06,506.87 L267.4,508.6 L267.78,507.67 L268.16,509.06 L268.54,509.6 L268.92,510.61 L269.3,513.33 L269.66,513.31 L270.02,512.02 L270.38,512.15 L270.74,512.86 L271.1,513.83 L271.46,513.59 L271.81,512.99 L272.17,512.15 L272.53,510.57 L272.89,510.79 L273.24,509.83 L273.6,510.27 L273.96,509.14 L274.32,506.95 L274.68,505.83 L275.04,505.97 L275.4,502.78 L275.78,504.19 L276.16,503.82 L276.54,503.37 L276.92,501.3 L277.3,501.14 L277.66,501.34 L278.02,501.59 L278.38,502.6 L278.74,501.97 L279.1,501.08 L279.48,502.9 L279.86,502.28 L280.24,502.94 L280.62,503.63 L281,502.11 L281.35,502.43 L281.7,500.47 L282.05,498.35 L282.4,496.76 L282.72,496.1 L283.04,494.9 L283.36,495.28 L283.68,493.5 L284,494.2 L284.36,494.75 L284.71,494.4 L285.07,494.89 L285.43,496.08 L285.79,496.08 L286.14,494.28 L286.5,496.16 L286.86,494.98 L287.22,492.75 L287.58,492.82 L287.94,491.75 L288.3,490.6 L288.68,490.28 L289.05,489.77 L289.43,486.67 L289.8,486.56 L290.12,485.25 L290.44,482.93 L290.76,483.95 L291.08,482.42 L291.4,482.41 L291.8,480.23 L292.2,478.66 L292.6,475.99 L292.92,476.96 L293.24,477.04 L293.56,476.62 L293.88,475.28 L294.2,475.87 L294.57,476.54 L294.95,476.93 L295.32,478.14 L295.7,479.6 L296.07,481.3 L296.45,482.57 L296.82,484.82 L297.2,486.72 L297.52,485.44 L297.84,484.28 L298.16,484.01 L298.48,482.25 L298.8,481.81 L299.12,481.47 L299.44,479.44 L299.76,477.77 L300.08,478.54 L300.4,476.97 L300.75,476.2 L301.1,476.36 L301.45,476.93 L301.8,477.25 L302.18,476.04 L302.56,475.23 L302.94,475.52 L303.32,476.78 L303.7,474.87 L304.06,476.44 L304.42,476.49 L304.78,477.26 L305.14,477.9 L305.5,479.25 L305.88,479.24 L306.26,479.47 L306.64,480.29 L307.02,481.04 L307.4,482.47 L307.8,483.62 L308.2,485.79 L308.6,489.16 L309,487.43 L309.4,486.56 L309.8,483.23 L310.18,483.29 L310.56,482.41 L310.94,480.59 L311.32,482.17 L311.7,479.37 L312.06,479.05 L312.42,480.03 L312.78,479.23 L313.14,480.42 L313.5,479.7 L313.9,480.36 L314.3,481.4 L314.7,484.39 L315.02,483.82 L315.34,485.75 L315.66,485.51 L315.98,487.33 L316.3,486.8" fill="none" stroke="#0b1a27" stroke-width="3.2" stroke-linejoin="round" stroke-linecap="round"/>
<path d="M317.7,513.21 L318.07,513.57 L318.43,515.03 L318.8,515.1 L319.17,515.57 L319.53,517.14 L319.9,519.19 L320.26,518.8 L320.61,518.62 L320.97,517.12 L321.33,517.85 L321.69,517.09 L322.04,516.73 L322.4,516.48 L322.74,516.24 L323.09,517.58 L323.43,516.81 L323.77,516.24 L324.11,515.71 L324.46,513.62 L324.8,513.41 L325.16,514.23 L325.51,514.5 L325.87,514.82 L326.23,514.89 L326.59,512.83 L326.94,514.18 L327.3,514.35 L327.63,514.25 L327.97,513.73 L328.3,514.83 L328.63,514.17 L328.97,516.7 L329.3,516.85 L329.63,516.36 L329.97,516.05 L330.3,517.96 L330.64,517.02 L330.99,517.76 L331.33,517.6 L331.68,516.66 L332.02,516.34 L332.37,516.76 L332.71,516.25 L333.06,515.49 L333.4,515.79 L333.74,517.05 L334.09,514.98 L334.43,514.92 L334.78,516.36 L335.12,515.4 L335.47,515.99 L335.81,515.76 L336.16,515.36 L336.5,516.99 L336.86,514.05 L337.22,513.75 L337.58,512.35 L337.94,512.6 L338.3,510.82 L338.66,510.77 L339.01,511.53 L339.37,510.16 L339.73,510.52 L340.09,511.17 L340.44,508.82 L340.8,508.46 L341.14,509.23 L341.49,510.96 L341.83,510.9 L342.18,510.25 L342.52,510.83 L342.87,510.76 L343.21,511.83 L343.56,511.08 L343.9,513.11 L344.23,513.3 L344.57,513.12 L344.9,512.21 L345.23,512.46 L345.57,509.68 L345.9,510.05 L346.23,511.48 L346.57,510.65 L346.9,509.37 L347.28,511.11 L347.66,510.63 L348.04,511.51 L348.42,510.5 L348.8,510.6 L349.16,512.23 L349.52,512.41 L349.88,514.03 L350.24,516.52 L350.6,515.86 L350.98,515.26 L351.36,515.6 L351.74,516.16 L352.12,518 L352.5,517.14 L352.86,515.97 L353.22,514.49 L353.58,515.81 L353.94,513.38 L354.3,511.84 L354.64,511.11 L354.99,510.76 L355.33,510.71 L355.67,511.69 L356.01,509.97 L356.36,509.35 L356.7,510.18 L357.03,509.36 L357.36,511.12 L357.69,508.66 L358.01,509.53 L358.34,509.98 L358.67,508.85 L359,510.17 L359.33,507.83 L359.67,506.2 L360,505.62 L360.33,503.63 L360.67,503.61 L361,502.15 L361.35,503.51 L361.7,503.06 L362.05,501.9 L362.4,500.38 L362.75,500.66 L363.1,500.33 L363.47,500.96 L363.83,501.74 L364.2,504.11 L364.57,502.94 L364.93,503.42 L365.3,506.41 L365.66,506.08 L366.01,507.8 L366.37,506.89 L366.73,508.8 L367.09,508.77 L367.44,509.74 L367.8,510.24 L368.16,508.73 L368.52,506.82 L368.88,506.27 L369.24,507.13 L369.6,506.34 L369.98,505.4 L370.36,502.88 L370.74,502.71 L371.12,502.08 L371.5,500.67 L371.84,501.3 L372.19,500.74 L372.53,501.26 L372.87,501.53 L373.21,500.63 L373.56,502.51 L373.9,502.79 L374.26,500.75 L374.61,503.34 L374.97,503.57 L375.33,503.07 L375.69,501.7 L376.04,504.18 L376.4,502.43 L376.76,504.45 L377.11,503.49 L377.47,501.74 L377.83,501.85 L378.19,502.89 L378.54,502.55 L378.9,502.84 L379.24,503.84 L379.59,502.53 L379.93,502.49 L380.27,505.41 L380.61,503.58 L380.96,506.35 L381.3,504.9 L381.66,506.09 L382.01,505.41 L382.37,505.04 L382.73,503.57 L383.09,503.81 L383.44,501.44 L383.8,502.05 L384.16,500.42 L384.52,501.14 L384.88,500.09 L385.24,498.57 L385.6,497.97 L385.96,497.11 L386.31,497.57 L386.67,499.47 L387.03,499.64 L387.39,501.06 L387.74,500.84 L388.1,500.06 L388.43,500.78 L388.77,501.96 L389.1,501.46 L389.43,500.26 L389.77,502.54 L390.1,502.65 L390.43,500.85 L390.77,502.18 L391.1,501.89 L391.44,502.47 L391.79,500.75 L392.13,500.07 L392.48,500.25 L392.82,501.02 L393.17,498.28 L393.51,497.85 L393.86,498.69 L394.2,498.9 L394.54,497.72 L394.89,497.31 L395.23,498.2 L395.58,497.77 L395.92,495.72 L396.27,497.62 L396.61,495.63 L396.96,495.7 L397.3,496.87 L397.64,495.28 L397.99,495.75 L398.33,493.59 L398.67,494.92 L399.01,492.59 L399.36,492 L399.7,492.39 L400.06,491.45 L400.41,491.45 L400.77,491.86 L401.13,490.83 L401.49,488.47 L401.84,488.74 L402.2,488.82 L402.54,488.73 L402.89,489.39 L403.23,488.86 L403.58,487.86 L403.92,488.37 L404.27,490 L404.61,488.79 L404.96,489.93 L405.3,490.56 L405.66,488.65 L406.02,487.8 L406.38,486.64 L406.74,484.89 L407.1,485.47 L407.47,483.5 L407.83,483.84 L408.2,481.44 L408.57,482.09 L408.93,481.06 L409.3,479.79 L409.65,480.17 L410,480.2 L410.35,482.65 L410.7,482.41 L411.05,484 L411.4,483.45 L411.74,483.49 L412.09,483.82 L412.43,485.72 L412.77,484.25 L413.11,486.3 L413.46,485.1 L413.8,485.8 L414.16,485.38 L414.51,486.26 L414.87,485.06 L415.23,486.03 L415.59,487.59 L415.94,485.8 L416.3,487.2 L416.7,487.58 L417.1,488.75 L417.5,489.26 L417.88,488.27 L418.26,489.71 L418.64,488.42 L419.02,487.36 L419.4,486.4 L419.76,485.44 L420.12,482.03 L420.48,481.8 L420.84,480.23 L421.2,479.09 L421.56,480.04 L421.91,479.58 L422.27,480.12 L422.63,477.9 L422.99,479.29 L423.34,479.36 L423.7,479.54 L424.02,479.33 L424.35,480.01 L424.68,478.76 L425,480.51 L425.34,479.01 L425.69,479.37 L426.03,480 L426.38,479.35 L426.72,478.18 L427.07,477.83 L427.41,477.94 L427.76,478.57 L428.1,479.39 L428.43,479.48 L428.77,478.53 L429.1,478.88 L429.43,480.3 L429.77,479.26 L430.1,479.94 L430.43,479.25 L430.77,480.03 L431.1,481.3 L431.44,482.11 L431.79,482.32 L432.13,482.08 L432.48,484.02 L432.82,483.58 L433.17,482.77 L433.51,482.95 L433.86,485.72 L434.2,486.17 L434.54,485.58 L434.89,484.35 L435.23,483.18 L435.58,482.19 L435.92,482.21 L436.27,481.71 L436.61,483.14 L436.96,482.63 L437.3,481.92 L437.64,480.12 L437.99,480.18 L438.33,480.16 L438.67,481.68 L439.01,479.47 L439.36,480.93 L439.7,480.47 L440.08,479.14 L440.46,479.23 L440.84,476.44 L441.22,476.14 L441.6,474.21 L441.96,473.31 L442.32,472.4 L442.68,472.4 L443.04,471.16 L443.4,470.26 L443.78,473.42 L444.16,472.33 L444.54,474.63 L444.92,474.89 L445.3,475.7 L445.66,475 L446.02,475.28 L446.38,474.58 L446.74,473.67 L447.1,472.76 L447.43,470.04 L447.77,467.05 L448.1,463.54 L448.48,465.11 L448.85,465.9 L449.23,469.4 L449.6,470.16 L449.96,469.2 L450.32,469.58 L450.68,471.53 L451.04,470.05 L451.4,470.52 L451.76,471.19 L452.11,471.57 L452.47,470.1 L452.83,470.16 L453.19,470.17 L453.54,469.06 L453.9,471.18 L454.26,469.93 L454.62,473.36 L454.98,472.24 L455.34,473.23 L455.7,476.01 L456.06,476.18 L456.42,474.88 L456.78,475.96 L457.14,476 L457.5,476.87 L457.86,475.57 L458.21,477.32 L458.57,477.85 L458.93,477.18 L459.29,477.82 L459.64,477.95 L460,476.59 L460.36,478.04 L460.72,478.25 L461.08,477.85 L461.44,476.84 L461.8,478.41 L462.18,478.07 L462.56,475.39 L462.94,475.18 L463.32,474.73 L463.7,472.86 L464.06,471.9 L464.42,473.94 L464.78,473.46 L465.14,475.53 L465.5,475.52 L465.86,475.47 L466.21,477.87 L466.57,478.04 L466.93,478.17 L467.29,480.33 L467.64,481.35 L468,482.22 L468.36,481.58 L468.72,480.37 L469.08,479.86 L469.44,478.99 L469.8,478.17 L470.16,479.11 L470.51,477.2 L470.87,476.24 L471.23,477.63 L471.59,476.81 L471.94,476.68 L472.3,476.55 L472.66,474.91 L473.02,474.04 L473.38,472.97 L473.74,474.07 L474.1,473.66 L474.48,472.51 L474.86,470.4 L475.24,472.04 L475.62,471.05 L476,469.62 L476.36,466.94 L476.72,467.77 L477.08,465.84 L477.44,464.48 L477.8,461.55 L478.16,462.19 L478.52,459.15 L478.88,459.08 L479.24,457 L479.6,456.34 L479.92,456.59 L480.24,455.11 L480.56,454.16 L480.88,451.7 L481.2,450.81 L481.57,452.77 L481.95,452.69 L482.32,455.07 L482.7,457.93 L483.08,458.34 L483.46,459.6 L483.84,459.12 L484.22,461.12 L484.6,462.35 L484.96,463.35 L485.32,463.88 L485.68,464.41 L486.04,465.23 L486.4,468.71 L486.77,471.12 L487.15,471.72 L487.52,475.27 L487.9,476.66 L488.22,477.47 L488.54,478.27 L488.86,477.16 L489.18,478.17 L489.5,477.47 L489.86,476.79 L490.22,474.2 L490.58,473.47 L490.94,472.19 L491.3,472.48 L491.66,469.82 L492.02,470.83 L492.38,468.47 L492.74,470.18 L493.1,467.43 L493.48,466.76 L493.86,466.59 L494.24,467.99 L494.62,466.82 L495,466.92 L495.36,464.92 L495.72,462.94 L496.08,462.55 L496.44,461.86 L496.8,462.27 L497.18,459.51 L497.56,459.09 L497.94,460.03 L498.32,457.52 L498.7,459.13 L499.04,457.54 L499.39,458.42 L499.73,458.83 L500.07,459.64 L500.41,457.65 L500.76,459.83 L501.1,458.27 L501.48,458.93 L501.86,456.39 L502.24,457.57 L502.62,455.31 L503,454.64 L503.36,453.59 L503.72,453.74 L504.08,453.15 L504.44,454.26 L504.8,452.68 L505.18,451.07 L505.56,451.71 L505.94,448.61 L506.32,447.74 L506.7,448.69 L507.06,447.81 L507.42,446.26 L507.78,446.16 L508.14,442.91 L508.5,444.25 L508.9,440.03 L509.3,436.24 L509.7,432.99 L510.02,428.47 L510.35,426.12 L510.68,423.36 L511,421.64 L511.35,421.5 L511.7,421.16 L512.05,420.37 L512.4,421.03 L512.72,420.8 L513.04,420.11 L513.36,417.76 L513.68,417.58 L514,417.27 L514.33,418.99 L514.65,421.54 L514.97,422.23 L515.3,425.02 L515.66,424.55 L516.02,424.87 L516.38,426.02 L516.74,426.9 L517.1,425.2 L517.46,427.07 L517.82,430.17 L518.18,429.63 L518.54,430.61 L518.9,432.5 L519.28,433.91 L519.66,433.42 L520.04,433.72 L520.42,432.33 L520.8,430.91 L521.16,430.86 L521.52,431.19 L521.88,429.6 L522.24,428.2 L522.6,428.08 L522.98,428.19 L523.36,427.79 L523.74,427.9 L524.12,426.97 L524.5,426.58 L524.86,428.18 L525.22,427.68 L525.58,426.51 L525.94,425.36 L526.3,425.47 L526.62,424.79 L526.94,424.31 L527.26,421.87 L527.58,421.79 L527.9,419.27 L528.3,420 L528.7,422.77 L529.1,424.36 L529.48,425.91 L529.85,427.78 L530.23,427.51 L530.6,430.14 L530.98,432.16 L531.35,431.51 L531.73,432.34 L532.1,433.78 L532.42,435.02 L532.74,436.39 L533.06,437.06 L533.38,438.87 L533.7,438.64 L534.1,441.97 L534.5,445.69 L534.9,448.22 L535.26,449.03 L535.62,448.71 L535.98,446.69 L536.34,446.63 L536.7,446.8" fill="none" stroke="#0a2ac8" stroke-width="3.2" stroke-linejoin="round" stroke-linecap="round"/>
<path d="M539.5,498.02 L539.83,498.13 L540.17,498.07 L540.5,498.25 L540.83,497.52 L541.17,497.8 L541.5,495.28 L541.83,496.21 L542.17,497.25 L542.5,496.29 L542.88,497.92 L543.26,496.85 L543.64,498.76 L544.02,499.16 L544.4,500.91 L544.74,501.44 L545.09,500.42 L545.43,501.39 L545.77,502 L546.11,504.1 L546.46,504.15 L546.8,503.01 L547.16,505.02 L547.51,503.65 L547.87,505.23 L548.23,504.3 L548.59,504.32 L548.94,506.92 L549.3,505.54 L549.64,505.82 L549.99,508.07 L550.33,508.04 L550.67,506.78 L551.01,508.79 L551.36,507.94 L551.7,508.56 L552.08,508.41 L552.45,511.4 L552.83,511.82 L553.2,513.61 L553.53,511.79 L553.87,508.61 L554.2,507.14 L554.53,505 L554.87,503.31 L555.2,501.47 L555.55,501.78 L555.9,502.27 L556.25,500.41 L556.6,501.86 L556.95,500.68 L557.3,500.31 L557.66,501.87 L558.02,501.23 L558.38,501.04 L558.74,501.71 L559.1,502.53 L559.46,501.71 L559.82,504.96 L560.18,503.34 L560.54,506.09 L560.9,507.2 L561.26,505.13 L561.61,507.22 L561.97,506.21 L562.33,506.85 L562.69,505.45 L563.04,505.64 L563.4,506.07 L563.75,508.28 L564.1,506.51 L564.45,508.16 L564.8,508.82 L565.15,509.05 L565.5,507.7 L565.87,506.81 L566.23,506.33 L566.6,506.07 L566.97,503.41 L567.33,504.16 L567.7,503.37 L568.06,503.18 L568.42,500.68 L568.78,502.68 L569.14,500.1 L569.5,500.39 L569.86,501.26 L570.21,502.23 L570.57,500.9 L570.93,502.59 L571.29,501.77 L571.64,501.34 L572,501.52 L572.36,501.33 L572.71,501.25 L573.07,501.6 L573.43,503.18 L573.79,504.15 L574.14,502.15 L574.5,502.03 L574.84,504.38 L575.19,503.12 L575.53,502.7 L575.87,502.17 L576.21,503.02 L576.56,503.53 L576.9,502.48 L577.26,502.84 L577.61,502.33 L577.97,505.01 L578.33,503.16 L578.69,504.8 L579.04,506.14 L579.4,504.74 L579.74,505.86 L580.09,505.98 L580.43,504.71 L580.77,504.68 L581.11,502.46 L581.46,502.87 L581.8,501.69 L582.16,503.24 L582.51,501.55 L582.87,501.71 L583.23,502.87 L583.59,502.23 L583.94,502.29 L584.3,500.68 L584.64,501.03 L584.99,501.91 L585.33,501.52 L585.67,501.29 L586.01,501.84 L586.36,501.42 L586.7,502.28 L587.06,503.61 L587.41,503.28 L587.77,502.16 L588.13,501.57 L588.49,500.89 L588.84,499.99 L589.2,500.21 L589.54,501.18 L589.89,501.04 L590.23,499.37 L590.57,500.12 L590.91,499.73 L591.26,499.16 L591.6,498.73 L591.96,499.42 L592.31,498.83 L592.67,500.16 L593.03,499.5 L593.39,500.48 L593.74,501.66 L594.1,501.9 L594.46,499.81 L594.81,500.44 L595.17,498.62 L595.53,497.38 L595.89,494.84 L596.24,495.18 L596.6,493.35 L596.96,495.69 L597.32,496.38 L597.68,498.54 L598.04,499.34 L598.4,500.97 L598.77,499.03 L599.15,499.02 L599.52,498.49 L599.9,497.95 L600.22,498.07 L600.54,500.71 L600.86,502.14 L601.18,503.03 L601.5,505.14 L601.86,505.33 L602.22,504.43 L602.58,504.7 L602.94,503.99 L603.3,505.98 L603.66,505 L604.02,502.56 L604.38,501.88 L604.74,500.71 L605.1,499.5 L605.46,497.09 L605.81,497.71 L606.17,496.24 L606.53,495.5 L606.89,493.91 L607.24,493.48 L607.6,492.91 L607.96,492.9 L608.31,493.46 L608.67,492 L609.03,492.69 L609.39,493.76 L609.74,494.65 L610.1,493.87 L610.44,494.47 L610.79,493.71 L611.13,491.57 L611.47,492.07 L611.81,490.82 L612.16,489.76 L612.5,489.35 L612.86,489.4 L613.21,488.61 L613.57,488.22 L613.93,487.38 L614.29,488.07 L614.64,487.42 L615,487.59 L615.36,487.03 L615.72,485.62 L616.08,486.85 L616.44,484 L616.8,484.55 L617.16,484.67 L617.51,485.45 L617.87,485.13 L618.23,487.43 L618.59,486.69 L618.94,486.25 L619.3,488.2 L619.64,486.76 L619.99,487.85 L620.33,487.23 L620.67,487.77 L621.01,488.66 L621.36,488.21 L621.7,487.09 L622.08,487.49 L622.46,486.43 L622.84,485.1 L623.22,483.89 L623.6,484.45 L623.94,484.54 L624.29,485.73 L624.63,485.93 L624.97,485.17 L625.31,484.67 L625.66,486.25 L626,484.1 L626.36,483.25 L626.71,483.31 L627.07,482.31 L627.43,479.95 L627.79,480.09 L628.14,479.65 L628.5,477.18 L628.84,477.58 L629.19,477.3 L629.53,477.73 L629.87,479.76 L630.21,478.47 L630.56,480.24 L630.9,480.38 L631.26,479.81 L631.61,479.19 L631.97,481.32 L632.33,480.32 L632.69,480.37 L633.04,480.37 L633.4,482.36 L633.74,481.16 L634.09,480.72 L634.43,481.3 L634.77,480.46 L635.11,481.84 L635.46,481.47 L635.8,481.16 L636.16,482 L636.51,481.69 L636.87,479.15 L637.23,480.07 L637.59,478.97 L637.94,480.26 L638.3,479.43 L638.66,477.95 L639.01,477.92 L639.37,477.55 L639.73,479.63 L640.09,477.73 L640.44,478.47 L640.8,478.03 L641.14,478.65 L641.49,478.71 L641.83,479.25 L642.17,477.79 L642.51,479.63 L642.86,478.61 L643.2,479.39 L643.56,478.52 L643.91,478.06 L644.27,478.31 L644.63,477.78 L644.99,477.15 L645.34,477.79 L645.7,477.04 L646.04,475.69 L646.39,476.36 L646.73,476.98 L647.07,478.28 L647.41,478.31 L647.76,477.52 L648.1,476.24 L648.48,478.16 L648.86,477.19 L649.24,477.52 L649.62,477.8 L650,477.54 L650.36,477.32 L650.71,478.61 L651.07,477.42 L651.43,477.6 L651.79,478.97 L652.14,477.44 L652.5,477.87 L652.84,479.7 L653.19,478.16 L653.53,480.6 L653.87,480.68 L654.21,480.44 L654.56,480.5 L654.9,482.23 L655.24,482.02 L655.59,479.48 L655.93,479.81 L656.28,479.45 L656.62,478.77 L656.97,477.79 L657.31,476.79 L657.66,477.37 L658,477.41 L658.34,475.2 L658.69,475.34 L659.03,476.6 L659.38,476.25 L659.72,475.64 L660.07,473.7 L660.41,475.23 L660.76,475.62 L661.1,475.4 L661.43,474.69 L661.77,473.06 L662.1,475.19 L662.43,473.64 L662.77,474.81 L663.1,475.68 L663.43,475.12 L663.77,473.68 L664.1,474.16 L664.44,475.65 L664.79,473.52 L665.13,474.59 L665.48,473.94 L665.82,473.15 L666.17,474.22 L666.51,472.58 L666.86,472.61 L667.2,473.19 L667.54,472.3 L667.89,472.18 L668.23,473.44 L668.57,473.79 L668.91,474.06 L669.26,472.03 L669.6,472.72 L669.96,471.8 L670.31,471.93 L670.67,471.03 L671.03,471.58 L671.39,469.5 L671.74,468.06 L672.1,469.11 L672.46,468.04 L672.81,469.63 L673.17,469.64 L673.53,471.04 L673.89,470.46 L674.24,470.97 L674.6,470.38 L674.94,470.96 L675.29,470.02 L675.63,471.14 L675.97,470.36 L676.31,469.19 L676.66,469.28 L677,469.47 L677.38,469.68 L677.76,467.49 L678.14,468.13 L678.52,467.24 L678.9,465.02 L679.26,467.04 L679.62,466.04 L679.98,466.62 L680.34,468.34 L680.7,467.92 L681.06,470.32 L681.42,470.03 L681.78,470.36 L682.14,472.33 L682.5,471.08 L682.86,472.61 L683.21,470.6 L683.57,470.58 L683.93,472.39 L684.29,471.41 L684.64,469.95 L685,469.4 L685.36,472.25 L685.72,472.07 L686.08,473.09 L686.44,471.94 L686.8,473.82 L687.17,473.84 L687.53,474.24 L687.9,475.22 L688.27,476.66 L688.63,476.69 L689,477.5 L689.35,475.84 L689.7,476.63 L690.05,475.13 L690.4,474.53 L690.75,472.54 L691.1,472.61 L691.46,471.56 L691.81,471.57 L692.17,471.33 L692.53,471.58 L692.89,470.5 L693.24,469.54 L693.6,469.19 L693.94,469.63 L694.29,469.2 L694.63,471.41 L694.97,470.35 L695.31,471.08 L695.66,469.1 L696,470.32 L696.38,470.07 L696.76,468.03 L697.14,466.19 L697.52,464.95 L697.9,462.66 L698.24,462.53 L698.59,462.27 L698.93,462.56 L699.27,462.32 L699.61,463.33 L699.96,461.17 L700.3,461.16 L700.68,461.84 L701.06,462.16 L701.44,463.11 L701.82,463.59 L702.2,464.85 L702.54,463.07 L702.89,464.78 L703.23,462.72 L703.57,463.58 L703.91,462.32 L704.26,461.67 L704.6,460.53 L704.98,461.52 L705.36,459.13 L705.74,460.32 L706.12,459.1 L706.5,459.85 L706.88,459.07 L707.25,456.67 L707.62,455.85 L708,454.46 L708.37,455.52 L708.73,455.64 L709.1,456.99 L709.47,459 L709.83,457.93 L710.2,458.31 L710.6,460.95 L711,462.7 L711.4,466.1 L711.8,468.33 L712.2,469.16 L712.6,471.63 L712.98,473.61 L713.36,475.17 L713.74,475.26 L714.12,475.56 L714.5,477.84 L714.86,476.18 L715.22,477.18 L715.58,479.91 L715.94,479.81 L716.3,479.72 L716.66,481.77 L717.02,483.65 L717.38,483.17 L717.74,483.47 L718.1,483.54 L718.42,482.37 L718.74,483.4 L719.06,481.22 L719.38,481.25 L719.7,477.84 L720.08,476.18 L720.45,473.53 L720.83,472.28 L721.2,469.26 L721.58,469.28 L721.96,469.2 L722.34,468.46 L722.72,467.31 L723.1,466.8 L723.42,469.59 L723.74,467.89 L724.06,469.1 L724.38,469.19 L724.7,469.88 L725.05,469.64 L725.4,471.17 L725.75,471.56 L726.1,473.61 L726.48,472.3 L726.85,469.16 L727.23,467.53 L727.6,463.56 L727.92,461.69 L728.24,461.68 L728.56,460.19 L728.88,459.05 L729.2,457.18 L729.52,456.11 L729.84,454.65 L730.16,453.41 L730.48,450.12 L730.8,448.77 L731.15,449.65 L731.5,447.98 L731.85,447.6 L732.2,448.01 L732.55,447.33 L732.9,449.01 L733.26,447.91 L733.62,445.37 L733.98,443.68 L734.34,442.33 L734.7,441.54 L735.06,440.85 L735.41,441.47 L735.77,441.59 L736.13,440.45 L736.49,439.7 L736.84,441.09 L737.2,439.12 L737.56,440.88 L737.92,442.46 L738.28,444.05 L738.64,444.7 L739,446.89 L739.38,447.24 L739.76,449 L740.14,449.11 L740.52,450.61 L740.9,450.6 L741.26,449.9 L741.62,448.43 L741.98,447.11 L742.34,447.1 L742.7,445.7 L743.05,445.35 L743.4,443.63 L743.75,442.42 L744.1,440.16 L744.45,440.44 L744.8,438.19 L745.17,437.34 L745.53,436.97 L745.9,437.04 L746.27,437.08 L746.63,437.96 L747,436.74 L747.36,435.67 L747.72,436.99 L748.08,435.95 L748.44,434.07 L748.8,433.63 L749.15,433.94 L749.5,434.63 L749.85,436.04 L750.2,436.37 L750.55,435.59 L750.9,434.7 L751.22,436.34 L751.54,437.28 L751.86,438.32 L752.18,438.61 L752.5,441.22 L752.88,442.83 L753.26,443.55 L753.64,442.89 L754.02,445 L754.4,445.05 L754.76,447.3 L755.12,447.48 L755.48,449.62 L755.84,450.11 L756.2,449.21 L756.58,450.32 L756.96,452.48 L757.34,451.9 L757.72,452.43 L758.1,453.05 L758.46,453.42 L758.82,453.37 L759.18,451.84 L759.54,452.5 L759.9,450.8" fill="none" stroke="#86c4cb" stroke-width="3.2" stroke-linejoin="round" stroke-linecap="round"/>
<path d="M762.4,498.46 L762.7,501.4 L763,503.39 L763.3,505.68 L763.66,505.44 L764.01,507.61 L764.37,507.55 L764.73,508.75 L765.09,508.18 L765.44,509.66 L765.8,508.81 L766.13,509.71 L766.47,509.04 L766.8,507.74 L767.13,507.59 L767.47,507.48 L767.8,505.74 L768.13,506.19 L768.47,506.37 L768.8,504.49 L769.14,505.41 L769.49,504.63 L769.83,504.56 L770.18,502.76 L770.52,501.65 L770.87,503.01 L771.21,502.55 L771.56,501.14 L771.9,499.74 L772.24,499.88 L772.59,500.88 L772.93,499.86 L773.28,501.44 L773.62,500.36 L773.97,499.22 L774.31,500.27 L774.66,499.37 L775,500.73 L775.33,500.73 L775.67,499.77 L776,500.18 L776.33,500.38 L776.67,500.73 L777,501.24 L777.33,498.84 L777.67,499.77 L778,500.46 L778.36,500.22 L778.71,501.49 L779.07,500.72 L779.43,503.3 L779.79,502.91 L780.14,502.38 L780.5,504.32 L780.86,504.39 L781.22,505.07 L781.58,506.8 L781.94,506.88 L782.3,508.05 L782.68,508.51 L783.06,506.84 L783.44,503.81 L783.82,504.56 L784.2,501.34 L784.54,501.74 L784.89,502.79 L785.23,501.63 L785.57,500.38 L785.91,500.14 L786.26,499.74 L786.6,498.63 L786.98,502 L787.36,500.64 L787.74,502.7 L788.12,504.64 L788.5,504.83 L788.86,506.83 L789.22,505.4 L789.58,507.79 L789.94,508.04 L790.3,507.94 L790.68,507.53 L791.06,505.4 L791.44,505.42 L791.82,504.35 L792.2,502.64 L792.57,502.32 L792.93,502.73 L793.3,501.76 L793.67,500.72 L794.03,502.24 L794.4,500.79 L794.75,502.28 L795.1,503.97 L795.45,503.3 L795.8,503.82 L796.15,505 L796.5,507.13 L796.84,506.37 L797.19,505.92 L797.53,506.26 L797.87,507.33 L798.21,505.41 L798.56,505.64 L798.9,506.69 L799.26,505.55 L799.61,504.21 L799.97,504.31 L800.33,503.87 L800.69,502.56 L801.04,502.72 L801.4,502.09 L801.76,502.41 L802.12,500.18 L802.48,500.07 L802.84,499.9 L803.2,498.8 L803.56,497.21 L803.91,497.63 L804.27,496.72 L804.63,496.75 L804.99,496.81 L805.34,497.43 L805.7,497.64 L806.06,496.94 L806.42,497.18 L806.78,499.31 L807.14,499.27 L807.5,500.18 L807.9,503.34 L808.3,502.86 L808.7,505.67 L809.02,502.78 L809.34,502.32 L809.66,500.14 L809.98,496.12 L810.3,494.5 L810.64,496.58 L810.98,495.83 L811.32,495.46 L811.66,496.51 L812,496.72 L812.32,496.98 L812.64,498.02 L812.96,498.16 L813.28,499.94 L813.6,500.48 L813.92,502.71 L814.24,503.64 L814.56,503.42 L814.88,505.65 L815.2,505.25 L815.55,504.46 L815.9,505.05 L816.25,503.75 L816.6,504.07 L816.95,502.55 L817.3,501.92 L817.68,499.07 L818.06,499.54 L818.44,496.24 L818.82,496.27 L819.2,495.67 L819.54,495.76 L819.89,495.82 L820.23,494.78 L820.57,495.5 L820.91,495.86 L821.26,494.26 L821.6,496.45 L821.98,497.58 L822.36,497.59 L822.74,499.68 L823.12,500.04 L823.5,500.82 L823.84,501.6 L824.19,499.55 L824.53,501.11 L824.87,501.21 L825.21,499.06 L825.56,500.4 L825.9,497.82 L826.26,499.83 L826.61,498.33 L826.97,500.11 L827.33,498.72 L827.69,500 L828.04,497.68 L828.4,497.82 L828.76,498.5 L829.12,496.82 L829.48,495.33 L829.84,492.81 L830.2,491.95 L830.57,491.45 L830.93,489.6 L831.3,491.03 L831.67,489.42 L832.03,488.89 L832.4,487.22 L832.75,486.89 L833.1,486.8 L833.45,489.1 L833.8,488.1 L834.15,489.82 L834.5,490.21 L834.86,490.56 L835.21,489.74 L835.57,490.01 L835.93,491.44 L836.29,490.44 L836.64,491.99 L837,491.29 L837.34,491.1 L837.69,490.24 L838.03,490.79 L838.37,489.8 L838.71,488.84 L839.06,488.3 L839.4,488.67 L839.76,489.21 L840.11,487.58 L840.47,486.55 L840.83,486.59 L841.19,486.04 L841.54,486.55 L841.9,486.74 L842.24,486.62 L842.59,486.07 L842.93,486.87 L843.27,487.46 L843.61,488.06 L843.96,488.39 L844.3,490.39 L844.66,488.98 L845.01,489.01 L845.37,488.89 L845.73,488.45 L846.09,488.61 L846.44,487.22 L846.8,487.73 L847.16,487.91 L847.51,485.2 L847.87,485.78 L848.23,484.54 L848.59,483.09 L848.94,482.42 L849.3,483.67 L849.64,482.61 L849.99,484.78 L850.33,483.8 L850.67,485.11 L851.01,484.86 L851.36,486.8 L851.7,488.04 L852.02,485.23 L852.34,484.75 L852.66,484.32 L852.98,481.32 L853.3,480.42 L853.67,479.56 L854.05,478.4 L854.42,475.06 L854.8,474.82 L855.16,474.15 L855.52,474.87 L855.88,477.88 L856.24,476.19 L856.6,479.19 L856.98,479.47 L857.36,480 L857.74,480.86 L858.12,481.37 L858.5,481.15 L858.86,482.17 L859.22,482.17 L859.58,484.49 L859.94,484.9 L860.3,485.55 L860.66,483.8 L861.01,484.53 L861.37,483.39 L861.73,484.53 L862.09,484.15 L862.44,484.54 L862.8,483.54 L863.14,483.04 L863.49,482.83 L863.83,480.61 L864.17,481.48 L864.51,479.57 L864.86,480 L865.2,478.9 L865.56,480.89 L865.91,478.33 L866.27,480.48 L866.63,480.38 L866.99,478.88 L867.34,479.74 L867.7,477.53 L868.06,478.08 L868.42,478.07 L868.78,478.54 L869.14,478.69 L869.5,481.15 L870,479.03 L870.36,479.98 L870.71,478.8 L871.07,478.07 L871.43,478.46 L871.79,477.49 L872.14,479.2 L872.5,477.3 L872.86,477.1 L873.22,476.29 L873.58,475.71 L873.94,474.59 L874.3,473.3 L874.66,473.82 L875.02,476.63 L875.38,475.68 L875.74,477.21 L876.1,479 L876.46,478.58 L876.81,479.74 L877.17,479.56 L877.53,478.98 L877.89,478.14 L878.24,479.56 L878.6,479.43 L878.96,479.08 L879.32,476.86 L879.68,475.93 L880.04,474.87 L880.4,472.62 L880.78,472.61 L881.16,471.78 L881.54,468.86 L881.92,469.87 L882.3,468.76 L882.7,470.76 L883.1,471.44 L883.5,473.25 L883.88,474.8 L884.25,477.26 L884.62,480.37 L885,480.94 L885.37,478.78 L885.73,478.33 L886.1,476.51 L886.47,476.69 L886.83,475.83 L887.2,475.01 L887.56,471.61 L887.92,471.15 L888.28,469.27 L888.64,470.09 L889,468.68 L889.38,467.97 L889.76,469.22 L890.14,468.21 L890.52,469 L890.9,468.37 L891.26,468.55 L891.62,470.69 L891.98,470.79 L892.34,470.64 L892.7,471.85 L893.06,471.72 L893.41,472.53 L893.77,471.06 L894.13,471.66 L894.49,472.03 L894.84,473.74 L895.2,474.47 L895.54,472.49 L895.89,472.88 L896.23,471.35 L896.57,472.33 L896.91,472.05 L897.26,469.74 L897.6,471.55 L897.96,471.07 L898.31,470.01 L898.67,470.94 L899.03,470.78 L899.39,472.61 L899.74,473.44 L900.1,471.86 L900.44,472.15 L900.79,473.58 L901.13,474.45 L901.47,474.41 L901.81,473.95 L902.16,473.32 L902.5,474.9 L902.86,473.87 L903.21,474.16 L903.57,472.94 L903.93,472.75 L904.29,472.75 L904.64,471.24 L905,471.37 L905.36,469.61 L905.71,468.8 L906.07,470.99 L906.43,468.68 L906.79,471.08 L907.14,469.58 L907.5,468.46 L907.84,469.29 L908.19,470.72 L908.53,470.11 L908.87,471.01 L909.21,469.92 L909.56,472.1 L909.9,471.17 L910.26,473.23 L910.62,472.3 L910.98,474.51 L911.34,474.86 L911.7,475.55 L912.08,476.08 L912.45,478.93 L912.83,481.25 L913.2,480.87 L913.52,479.92 L913.84,476.95 L914.16,477.66 L914.48,475.76 L914.8,473.16 L915.18,471.05 L915.56,468.38 L915.94,466.91 L916.32,466.83 L916.7,465.47 L917.04,466.06 L917.39,465.81 L917.73,464.8 L918.07,464.41 L918.41,465.24 L918.76,464.81 L919.1,465.42 L919.46,466.74 L919.81,466.06 L920.17,467.88 L920.53,467.64 L920.89,466.33 L921.24,468.6 L921.6,468.82 L921.96,467.86 L922.32,465.39 L922.68,466.81 L923.04,464.95 L923.4,464.2 L923.8,459.14 L924.2,454.69 L924.6,450.54 L924.92,450.45 L925.24,450.09 L925.56,449.1 L925.88,448.25 L926.2,449.39 L926.53,450.7 L926.85,452.54 L927.17,452.19 L927.5,454.89 L927.9,457.81 L928.3,459.77 L928.7,465.08 L929.04,464.97 L929.38,465.76 L929.72,467 L930.06,470.16 L930.4,469.57 L930.77,470.6 L931.13,471.62 L931.5,471.73 L931.87,473.11 L932.23,472.23 L932.6,473.72 L932.96,474.39 L933.31,474.75 L933.67,475 L934.03,474.39 L934.39,475.62 L934.74,476.76 L935.1,475.75 L935.44,476 L935.79,476.33 L936.13,474.64 L936.47,474.5 L936.81,476.17 L937.16,474.25 L937.5,474.41 L937.86,474.16 L938.21,475.68 L938.57,474.42 L938.93,475.23 L939.29,473.22 L939.64,473.42 L940,474.29 L940.36,472.71 L940.72,472.88 L941.08,471.76 L941.44,469.92 L941.8,469.29 L942.18,469.14 L942.56,468.39 L942.94,466.46 L943.32,465.68 L943.7,464 L944.06,464.33 L944.42,464.08 L944.78,463.93 L945.14,464.1 L945.5,464.42 L945.88,464.43 L946.26,464.85 L946.64,464.02 L947.02,464.93 L947.4,465.89 L947.77,465.72 L948.13,463.43 L948.5,462.24 L948.87,461.73 L949.23,462.34 L949.6,462.67 L950,457.93 L950.4,456.7 L950.8,453.47 L951.14,452.33 L951.48,450.7 L951.82,446.92 L952.16,446.98 L952.5,443.55 L952.87,442.69 L953.23,442.6 L953.6,442.02 L953.97,440.11 L954.33,439.83 L954.7,438.76 L955.08,438.15 L955.46,437.56 L955.84,436.86 L956.22,436.87 L956.6,436.65 L957,432.99 L957.4,429.81 L957.8,425.69 L958.2,428.03 L958.6,430.27 L959,433.7 L959.38,433.1 L959.76,433.56 L960.14,433.89 L960.52,435.84 L960.9,434.96 L961.25,437.18 L961.6,439.51 L961.95,442.07 L962.3,444.28 L962.62,443.02 L962.94,441.91 L963.26,439.74 L963.58,440.49 L963.9,438.92 L964.28,436.84 L964.66,435.59 L965.04,434.84 L965.42,432.43 L965.8,432.57 L966.16,433.87 L966.52,433.09 L966.88,434.06 L967.24,434.04 L967.6,436.36 L967.98,434.48 L968.36,433.94 L968.74,434.35 L969.12,432.97 L969.5,433.85 L969.86,433.07 L970.22,434.03 L970.58,433.79 L970.94,435.03 L971.3,435.23 L971.66,433.89 L972.02,435.55 L972.38,433.28 L972.74,433.98 L973.1,433.86 L973.48,433.2 L973.86,432.71 L974.24,432.92 L974.62,434.22 L975,431.53 L975.36,434.42 L975.72,434.32 L976.08,434.61 L976.44,435.64 L976.8,436.26 L977.17,438.28 L977.55,440.19 L977.92,440.51 L978.3,441.61 L978.62,443 L978.94,445.79 L979.26,446.03 L979.58,446.32 L979.9,449.03 L980.3,448 L980.7,448.8 L981.1,449.4" fill="none" stroke="#e3ea94" stroke-width="3.2" stroke-linejoin="round" stroke-linecap="round"/>
<line x1="96" x2="317" y1="136.0" y2="136.0" stroke="#222" stroke-opacity="0.42" stroke-width="1.35" stroke-dasharray="6.3 4.4" stroke-dashoffset="0.8"/>
<text x="98.0" y="131.6" font-size="10.6" fill="#555">Average</text>
<line x1="318" x2="538.2" y1="127.0" y2="127.0" stroke="#222" stroke-opacity="0.42" stroke-width="1.35" stroke-dasharray="6.3 4.4" stroke-dashoffset="0.8"/>
<text x="320.0" y="122.6" font-size="10.6" fill="#555">Average</text>
<line x1="539.3" x2="761" y1="162.8" y2="162.8" stroke="#222" stroke-opacity="0.42" stroke-width="1.35" stroke-dasharray="6.3 4.4" stroke-dashoffset="0.8"/>
<text x="541.3" y="158.4" font-size="10.6" fill="#555">Average</text>
<line x1="762" x2="981.5" y1="131.4" y2="131.4" stroke="#222" stroke-opacity="0.42" stroke-width="1.35" stroke-dasharray="6.3 4.4" stroke-dashoffset="0.8"/>
<text x="764.0" y="127.0" font-size="10.6" fill="#555">Average</text>
<line x1="96" x2="317" y1="313.0" y2="313.0" stroke="#222" stroke-opacity="0.42" stroke-width="1.35" stroke-dasharray="6.3 4.4" stroke-dashoffset="0.8"/>
<text x="98.0" y="308.6" font-size="10.6" fill="#555">Average</text>
<line x1="318" x2="538.2" y1="315.7" y2="315.7" stroke="#222" stroke-opacity="0.42" stroke-width="1.35" stroke-dasharray="6.3 4.4" stroke-dashoffset="0.8"/>
<text x="320.0" y="311.3" font-size="10.6" fill="#555">Average</text>
<line x1="539.3" x2="761" y1="348.8" y2="348.8" stroke="#222" stroke-opacity="0.42" stroke-width="1.35" stroke-dasharray="6.3 4.4" stroke-dashoffset="0.8"/>
<text x="541.3" y="344.40000000000003" font-size="10.6" fill="#555">Average</text>
<line x1="762" x2="981.5" y1="357.7" y2="357.7" stroke="#222" stroke-opacity="0.42" stroke-width="1.35" stroke-dasharray="6.3 4.4" stroke-dashoffset="0.8"/>
<text x="764.0" y="353.3" font-size="10.6" fill="#555">Average</text>
<g stroke="#c9c9c9" stroke-width="1">
<line x1="95.5" x2="95.5" y1="44" y2="611.5"/>
<line x1="317.0" x2="317.0" y1="44" y2="352"/>
<line x1="317.0" x2="317.0" y1="408" y2="611.5"/>
<line x1="317.2" x2="317.2" y1="352" y2="408" stroke="#fff" stroke-opacity="0.55" stroke-width="1.7"/>
<line x1="538.6" x2="538.6" y1="44" y2="611.5"/>
<line x1="761.5" x2="761.5" y1="44" y2="611.5"/>
<line x1="26" x2="982.5" y1="62.5" y2="62.5"/>
<line x1="26" x2="982.5" y1="235.5" y2="235.5"/>
<line x1="26" x2="982.5" y1="408.2" y2="408.2"/>
<line x1="26" x2="982.5" y1="580.6" y2="580.6"/>
</g>
<line x1="982.0" x2="982.0" y1="44" y2="611.5" stroke="#e2e1e0" stroke-width="2"/>
<text x="206.1" y="58.4" font-size="16.9" fill="#5c6066" text-anchor="middle">Industrial</text>
<text x="427.7" y="58.4" font-size="16.9" fill="#5c6066" text-anchor="middle">Multifamily</text>
<text x="649.5" y="58.4" font-size="16.9" fill="#5c6066" text-anchor="middle">Office</text>
<text x="871.5" y="58.4" font-size="16.9" fill="#5c6066" text-anchor="middle">Retail</text>
<text x="88.6" y="107.7" font-size="14" fill="#666" text-anchor="end">4K</text>
<text x="88.6" y="173.2" font-size="14" fill="#666" text-anchor="end">2K</text>
<text x="88.6" y="231.2" font-size="14" fill="#666" text-anchor="end">0K</text>
<text x="88.6" y="257.8" font-size="14" fill="#666" text-anchor="end">200M</text>
<text x="88.6" y="296.3" font-size="14" fill="#666" text-anchor="end">150M</text>
<text x="88.6" y="335.0" font-size="14" fill="#666" text-anchor="end">100M</text>
<text x="88.6" y="373.6" font-size="14" fill="#666" text-anchor="end">50M</text>
<text x="88.6" y="403.5" font-size="14" fill="#666" text-anchor="end">0M</text>
<text x="88.6" y="419.8" font-size="14" fill="#666" text-anchor="end">$150</text>
<text x="88.6" y="473.0" font-size="14" fill="#666" text-anchor="end">$100</text>
<text x="88.6" y="529.0" font-size="14" fill="#666" text-anchor="end">$50</text>
<text x="88.6" y="576.7" font-size="14" fill="#666" text-anchor="end">$0</text>
<text transform="translate(43.9,147.8) rotate(-90)" font-size="14.3" fill="#484b50" text-anchor="middle">Properties Traded (90 day</text>
<text transform="translate(61.1,147.8) rotate(-90)" font-size="14.3" fill="#484b50" text-anchor="middle">MA)</text>
<text transform="translate(43.9,320.3) rotate(-90)" font-size="14.3" fill="#484b50" text-anchor="middle">SF Traded (90 day MA)</text>
<text transform="translate(43.9,493.0) rotate(-90)" font-size="14.3" fill="#484b50" text-anchor="middle">Price $/SF (90 day MA)</text>
<text x="96.7" y="597.2" font-size="11.2" fill="#666">2010</text>
<text x="177.1" y="597.2" font-size="11.2" fill="#666" text-anchor="middle">2015</text>
<text x="259.2" y="597.2" font-size="11.2" fill="#666" text-anchor="middle">2020</text>
<text x="318.7" y="597.2" font-size="11.2" fill="#666">2010</text>
<text x="399.1" y="597.2" font-size="11.2" fill="#666" text-anchor="middle">2015</text>
<text x="481.2" y="597.2" font-size="11.2" fill="#666" text-anchor="middle">2020</text>
<text x="539.9000000000001" y="597.2" font-size="11.2" fill="#666">2010</text>
<text x="620.3000000000001" y="597.2" font-size="11.2" fill="#666" text-anchor="middle">2015</text>
<text x="702.4000000000001" y="597.2" font-size="11.2" fill="#666" text-anchor="middle">2020</text>
<text x="762.7" y="597.2" font-size="11.2" fill="#666">2010</text>
<text x="843.1" y="597.2" font-size="11.2" fill="#666" text-anchor="middle">2015</text>
<text x="925.2" y="597.2" font-size="11.2" fill="#666" text-anchor="middle">2020</text>
<text x="28" y="645.7" font-size="13.2" fill="#1c1c1c">Sources: Altus data; Altus Research Team</text>
</svg>
</body></html>
